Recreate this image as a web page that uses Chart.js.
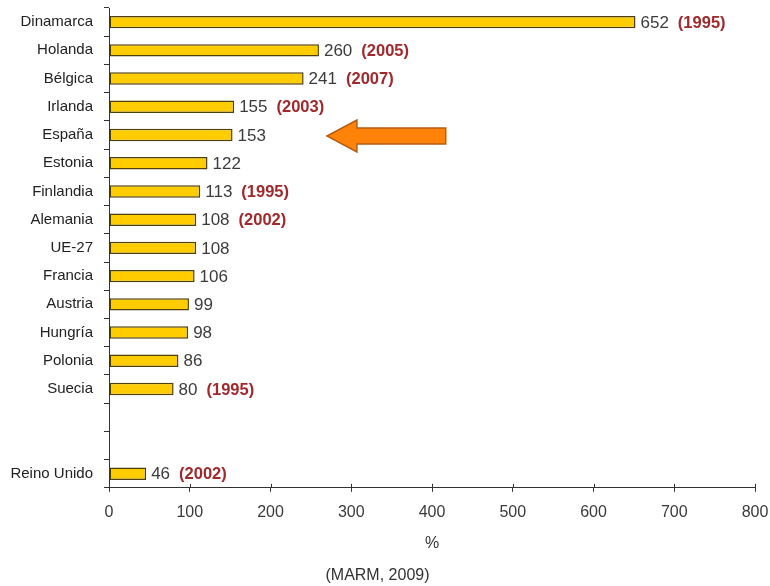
<!DOCTYPE html>
<html>
<head>
<meta charset="utf-8">
<script src="https://cdn.jsdelivr.net/npm/chart.js@4/dist/chart.umd.min.js"></script>
<style>
  html, body { margin: 0; padding: 0; background: #ffffff; }
  #wrap { width: 770px; height: 586px; position: relative; }
</style>
</head>
<body>
<div id="wrap"><canvas id="c" width="770" height="586"></canvas></div>
<script>
// Países (dos huecos vacíos antes de Reino Unido)
const countries = ['Dinamarca', 'Holanda', 'Bélgica', 'Irlanda', 'España', 'Estonia', 'Finlandia',
  'Alemania', 'UE-27', 'Francia', 'Austria', 'Hungría', 'Polonia', 'Suecia', '', '', 'Reino Unido'];
// Valor en %
const values = [652, 260, 241, 155, 153, 122, 113, 108, 108, 106, 99, 98, 86, 80, null, null, 46];
// Año del dato cuando no es el de referencia
const years = ['1995', '2005', '2007', '2003', '', '', '1995', '2002', '', '', '', '', '', '1995', '', '', '2002'];
const xTicks = [0, 100, 200, 300, 400, 500, 600, 700, 800];
const sourceNote = '(MARM, 2009)';
// Flecha que señala a España: punta y cola en unidades del eje x
const arrowCategory = 'España';
const arrowTipValue = 270;
const arrowHeadBaseValue = 307;
const arrowTailValue = 417;

const FONT = '"Liberation Sans", Arial, sans-serif';

// Etiquetas de valor y año a la derecha de cada barra
const barLabels = {
  id: 'barLabels',
  afterDatasetsDraw(chart) {
    const ctx = chart.ctx;
    const meta = chart.getDatasetMeta(0);
    ctx.save();
    ctx.textBaseline = 'middle';
    ctx.textAlign = 'left';
    meta.data.forEach((bar, i) => {
      const v = values[i];
      if (v === null || v === undefined) return;
      let x = bar.x + 5;
      const y = bar.y + 1;
      ctx.font = '17px ' + FONT;
      ctx.fillStyle = '#3c3c3c';
      const vt = String(v);
      ctx.fillText(vt, x, y);
      x += ctx.measureText(vt).width + 9;
      if (years[i]) {
        ctx.font = 'bold 16.5px ' + FONT;
        ctx.fillStyle = '#a3282b';
        ctx.fillText('(' + years[i] + ')', x, y);
      }
    });
    ctx.restore();
  }
};

// Flecha naranja y marcas cruzadas del eje x
const extras = {
  id: 'extras',
  afterDraw(chart) {
    const ctx = chart.ctx;
    const xs = chart.scales.x;
    const ys = chart.scales.y;
    ctx.save();

    // marcas del eje x por encima de la línea del eje
    ctx.strokeStyle = '#333333';
    ctx.lineWidth = 1;
    xTicks.forEach(t => {
      const px = Math.round(xs.getPixelForValue(t)) + 0.5;
      ctx.beginPath();
      ctx.moveTo(px, xs.top - 4);
      ctx.lineTo(px, xs.top);
      ctx.stroke();
    });

    // flecha
    const cy = ys.getPixelForValue(countries.indexOf(arrowCategory)) + 1;
    const tip = xs.getPixelForValue(arrowTipValue);
    const base = xs.getPixelForValue(arrowHeadBaseValue);
    const tail = xs.getPixelForValue(arrowTailValue);
    const headH = 16, bodyH = 8;
    ctx.beginPath();
    ctx.moveTo(tip, cy);
    ctx.lineTo(base, cy - headH);
    ctx.lineTo(base, cy - bodyH);
    ctx.lineTo(tail, cy - bodyH);
    ctx.lineTo(tail, cy + bodyH);
    ctx.lineTo(base, cy + bodyH);
    ctx.lineTo(base, cy + headH);
    ctx.closePath();
    ctx.fillStyle = '#ff8309';
    ctx.fill();
    ctx.lineWidth = 1.5;
    ctx.strokeStyle = '#b85c14';
    ctx.stroke();

    ctx.restore();
  }
};

new Chart(document.getElementById('c'), {
  type: 'bar',
  data: {
    labels: countries,
    datasets: [{
      data: values,
      backgroundColor: '#ffcc00',
      borderColor: '#4e3f0c',
      borderWidth: 1.5,
      borderSkipped: false,
      categoryPercentage: 1,
      barPercentage: 0.44
    }]
  },
  options: {
    indexAxis: 'y',
    responsive: false,
    animation: false,
    layout: { padding: { top: 8, right: 15, left: 0, bottom: 0 } },
    plugins: {
      legend: { display: false },
      tooltip: { enabled: false },
      subtitle: {
        display: true,
        position: 'bottom',
        text: sourceNote,
        color: '#333333',
        font: { family: FONT, size: 16, weight: 'normal' },
        padding: { top: 4, bottom: 1 }
      }
    },
    scales: {
      x: {
        type: 'linear',
        min: 0,
        max: 800,
        afterBuildTicks(scale) { scale.ticks = xTicks.map(v => ({ value: v })); },
        afterFit(scale) {
          scale.height = 74;
          scale.paddingLeft = 0; scale.paddingRight = 0;
        },
        grid: { display: true, drawOnChartArea: false, drawTicks: true, tickLength: 4, color: '#333333' },
        border: { display: true, color: '#333333', width: 1 },
        ticks: {
          color: '#3a3a3a',
          padding: 11,
          font: { family: FONT, size: 16 }
        },
        title: {
          display: true,
          text: '%',
          color: '#333333',
          font: { family: FONT, size: 16 },
          padding: { top: 0, bottom: 9 }
        }
      },
      y: {
        type: 'category',
        offset: true,
        afterFit(scale) {
          scale.width = 109;
          scale.paddingTop = 0; scale.paddingBottom = 0;
        },
        grid: { display: true, offset: true, drawOnChartArea: false, drawTicks: true, tickLength: 5, color: '#333333' },
        border: { display: true, color: '#333333', width: 1 },
        ticks: {
          color: '#222222',
          padding: 11,
          autoSkip: false,
          font: { family: FONT, size: 15 }
        }
      }
    }
  },
  plugins: [barLabels, extras]
});
</script>
</body>
</html>
